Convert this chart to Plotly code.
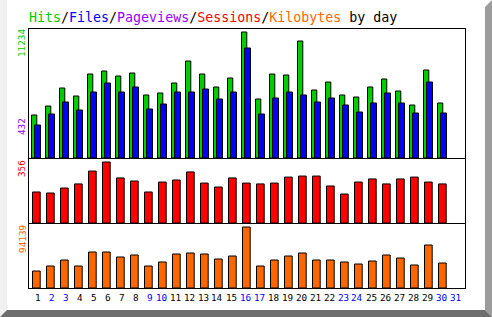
import plotly.graph_objects as go

days = list(range(1, 32))
day_labels = [str(d) for d in days]
weekend_days = [2, 3, 9, 10, 16, 17, 23, 24, 30, 31]

hits = [3834, 4636, 6241, 5528, 7489, 7757, 7311, 7579, 5617, 5795, 6687, 8648, 7489, 6330, 7133,
        11234, 5260, 7489, 7400, 10431, 6063, 6776, 5617, 5439, 6330, 7043, 5974, 4725, 7846, 4904, None]
files = [2942, 3923, 4993, 4280, 5884, 6687, 5884, 6330, 4369, 4815, 5884, 5884, 6152, 5260, 5884,
         9808, 3923, 5349, 5884, 5617, 4993, 5349, 4725, 4101, 4904, 5795, 4904, 4012, 6776, 4012, None]
sessions = [181, 175, 204, 228, 303, 356, 263, 245, 181, 239, 251, 298, 233, 210, 263,
            233, 228, 233, 268, 274, 274, 216, 169, 239, 257, 228, 257, 268, 239, 228, None]
kilobytes = [26236, 33953, 43212, 33953, 55558, 55558, 47842, 50929, 33953, 40126, 52472, 54016, 52472, 44756, 49385,
             94139, 33953, 43212, 49385, 54016, 43212, 43212, 40126, 37039, 41669, 50929, 46299, 35496, 66362, 38583, None]

max_hits_label = "11234"
max_pages_label = "432"
max_sessions_label = "356"
max_kb_label = "94139"

C_HITS = "#00cc00"
C_FILES = "#0000ff"
C_PAGES = "#9900ff"
C_SESS = "#ff0000"
C_KB = "#ff6600"
FONT = "DejaVu Sans Mono"

W, H = 492, 317
L, R, T, B = 28, 26, 28, 29
PW, PH = W - L - R, H - T - B


def px(x):
    return (x - L) / PW


def py(y):
    return (H - B - y) / PH


PXU = 14.0  # pixels per day
x0 = 1 - (36 - L) / PXU
x1 = x0 + PW / PXU

fig = go.Figure()
line = dict(color="black", width=1)
fig.add_trace(go.Bar(x=days, y=hits, width=5.3 / PXU, offset=-4.5 / PXU, marker=dict(color=C_HITS, line=line),
                     xaxis="x", yaxis="y"))
fig.add_trace(go.Bar(x=days, y=files, width=6.0 / PXU, offset=-1.5 / PXU, marker=dict(color=C_FILES, line=line),
                     xaxis="x", yaxis="y"))
fig.add_trace(go.Bar(x=days, y=sessions, width=7.7 / PXU, offset=-3.5 / PXU, marker=dict(color=C_SESS, line=line),
                     xaxis="x2", yaxis="y2"))
fig.add_trace(go.Bar(x=days, y=kilobytes, width=7.7 / PXU, offset=-3.5 / PXU, marker=dict(color=C_KB, line=line),
                     xaxis="x3", yaxis="y3"))

ax = dict(range=[x0, x1], visible=False, fixedrange=True)
fig.update_layout(
    width=W, height=H, margin=dict(l=L, r=R, t=T, b=B),
    paper_bgcolor="white", plot_bgcolor="white", showlegend=False, barmode="overlay",
    xaxis=dict(ax, anchor="y", domain=[0, 1]),
    xaxis2=dict(ax, anchor="y2", domain=[0, 1]),
    xaxis3=dict(ax, anchor="y3", domain=[0, 1]),
    yaxis=dict(domain=[py(158), 1], range=[0, 11234 * 130 / 126], visible=False),
    yaxis2=dict(domain=[py(223), py(158)], range=[0, 356 * 65 / 61], visible=False),
    yaxis3=dict(domain=[0, py(223)], range=[0, 94139 * 65 / 61], visible=False),
)

shapes = []
# frame bevels
def path(pts):
    return "M " + " L ".join(f"{px(a)},{py(b)}" for a, b in pts) + " Z"

shapes.append(dict(type="path", xref="paper", yref="paper", path=path([(0, 0), (7, 0), (7, 310), (0, 317)]),
                   fillcolor="#f0f0f0", line=dict(width=0), layer="below"))
shapes.append(dict(type="path", xref="paper", yref="paper", path=path([(485, 7), (492, 0), (492, 317), (485, 310)]),
                   fillcolor="#9c9c9c", line=dict(width=0), layer="below"))
shapes.append(dict(type="path", xref="paper", yref="paper", path=path([(7, 310), (485, 310), (492, 317), (0, 317)]),
                   fillcolor="#6e6e6e", line=dict(width=0), layer="below"))
# box lines
for yy in [28.5, 158.5, 223.5, 288.5]:
    shapes.append(dict(type="line", xref="paper", yref="paper", x0=px(28), x1=px(466), y0=py(yy), y1=py(yy),
                       line=dict(color="black", width=1)))
for xx in [28.5, 465.5]:
    shapes.append(dict(type="line", xref="paper", yref="paper", x0=px(xx), x1=px(xx), y0=py(28), y1=py(289),
                       line=dict(color="black", width=1)))
fig.update_layout(shapes=shapes)

ann = []
title = (f"<span style='color:{C_HITS}'>Hits</span>/<span style='color:{C_FILES}'>Files</span>/"
         f"<span style='color:{C_PAGES}'>Pageviews</span>/<span style='color:{C_SESS}'>Sessions</span>/"
         f"<span style='color:{C_KB}'>Kilobytes</span> by day")
ann.append(dict(text=title, xref="paper", yref="paper", x=px(27), y=py(18), xanchor="left", yanchor="middle",
                showarrow=False, font=dict(family=FONT, size=13.3, color="black")))
for d, lab in zip(days, day_labels):
    col = C_FILES if d in weekend_days else "black"
    ann.append(dict(text=lab, xref="x3", yref="paper", x=d, y=py(297.5), xanchor="right", yanchor="middle",
                    xshift=6.5, showarrow=False, font=dict(family=FONT, size=9.3, color=col)))
for lab, col, yc in [(max_hits_label, C_HITS, 43.3), (max_pages_label, C_PAGES, 126.3),
                     (max_sessions_label, C_SESS, 168.3), (max_kb_label, C_KB, 239.2)]:
    ann.append(dict(text=lab, xref="paper", yref="paper", x=px(21.7), y=py(yc), xanchor="center", yanchor="middle",
                    textangle=-90, showarrow=False, font=dict(family=FONT, size=9.3, color=col)))
fig.update_layout(annotations=ann)

fig.write_html("out.html")
